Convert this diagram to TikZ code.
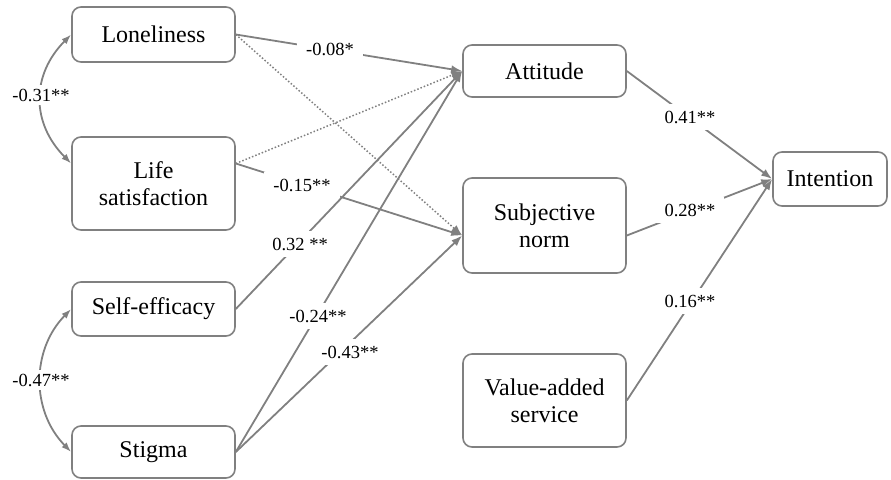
\documentclass[tikz,border=0pt]{standalone}
\usepackage{fontspec}
\setmainfont{Liberation Serif}
\usetikzlibrary{arrows.meta}
\definecolor{lg}{HTML}{808080}
\begin{document}
\begin{tikzpicture}[x=1pt,y=-1pt,
  box/.style={draw=lg, line width=1.6pt, rounded corners=9pt, align=center, inner sep=0pt,
    font=\fontsize{24}{27}\selectfont, text=black},
  arr/.style={draw=lg, line width=1.8pt, -{Latex[length=11pt,width=8pt]}},
  dotarr/.style={draw=lg, line width=1.5pt, dotted, -{Latex[length=11pt,width=8pt]}},
  corr/.style={draw=lg, line width=1.8pt, {Latex[length=10pt,width=7pt]}-{Latex[length=10pt,width=7pt]}},
  lab/.style={fill=white, inner xsep=9pt, inner ysep=7pt, font=\fontsize{18.5}{20}\selectfont, text=black}
]
\useasboundingbox (0,0) rectangle (891,479);

% boxes
\node[box, minimum width=163pt, minimum height=55pt] (lon) at (153.5,34.5) {Loneliness};
\node[box, minimum width=163pt, minimum height=93pt] (ls) at (153.5,183.5) {Life\\satisfaction};
\node[box, minimum width=163pt, minimum height=54pt] (se) at (153.5,309) {Self-efficacy};
\node[box, minimum width=163pt, minimum height=52pt] (st) at (153.5,452) {Stigma};
\node[box, minimum width=163pt, minimum height=52pt] (att) at (544.5,71) {Attitude};
\node[box, minimum width=163pt, minimum height=95pt] (sn) at (544.5,225.5) {Subjective\\norm};
\node[box, minimum width=163pt, minimum height=93pt] (va) at (544.5,400.5) {Value-added\\service};
\node[box, minimum width=114pt, minimum height=54pt] (int) at (830,179) {Intention};

\coordinate (lsout) at ([yshift=20pt]ls.east);
\coordinate (lsin) at ([yshift=20pt]ls.west);
\coordinate (snin) at ([yshift=-10pt]sn.west);
\coordinate (snout) at ([yshift=-10pt]sn.east);

% paths
\draw[arr] (lon.east) -- (att.west);
\draw[dotarr] (lsout) -- (att.west);
\draw[dotarr] (lon.east) -- (snin);
\draw[arr] (lsout) -- (snin);
\draw[arr] (se.east) -- (att.west);
\draw[arr] (st.east) -- (att.west);
\draw[arr] (st.east) -- (snin);
\draw[arr] (att.east) -- (int.west);
\draw[arr] (snout) -- (int.west);
\draw[arr] (va.east) -- (int.west);

% correlations
\draw[corr] (lon.west) .. controls (31,75) and (31,123) .. (lsin);
\draw[corr] (se.west) .. controls (31,350) and (31,411) .. (st.west);

% labels
\node[lab] (l1) at (330,49) {-0.08*};
\node[lab] (l2) at (302,185) {-0.15**};
\node[lab] (l3) at (300,244) {0.32 **};
\node[lab] (l4) at (318,316) {-0.24**};
\node[lab] (l5) at (350,352) {-0.43**};
\node[lab] (l6) at (690,117) {0.41**};
\node[lab] (l7) at (690,210) {0.28**};
\node[lab] (l8) at (690,301) {0.16**};
\node[lab, inner xsep=1pt, inner ysep=4pt] (l9) at (41,95) {-0.31**};
\node[lab, inner xsep=1pt, inner ysep=4pt] (l10) at (41,380) {-0.47**};
\end{tikzpicture}
\end{document}
